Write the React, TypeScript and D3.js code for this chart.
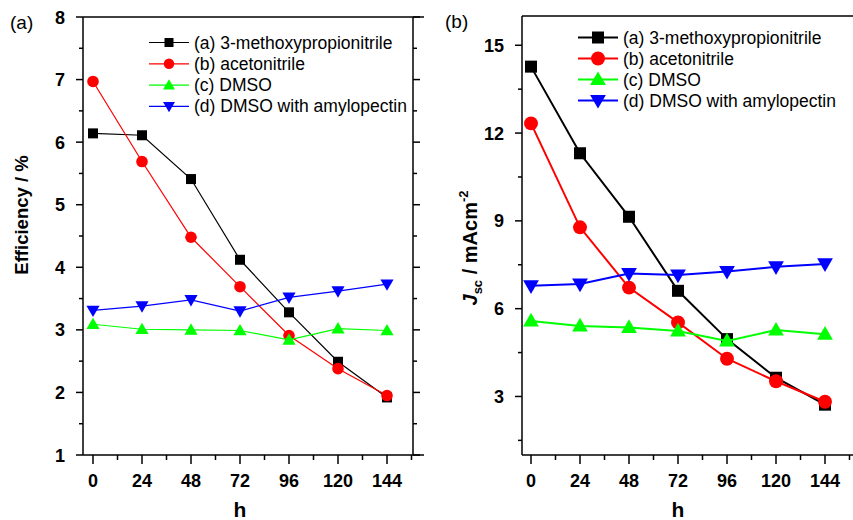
import React from "react";
import * as d3 from "d3";

const hours = [0, 24, 48, 72, 96, 120, 144];
const seriesNames = [
  "(a) 3-methoxypropionitrile",
  "(b) acetonitrile",
  "(c) DMSO",
  "(d) DMSO with amylopectin",
];
const seriesColors = ["#000000", "#ff0000", "#00ff00", "#0000ff"];
const seriesShapes = ["square", "circle", "triangle", "down"];

const effA = [6.14, 6.11, 5.41, 4.12, 3.28, 2.49, 1.92];
const effB = [6.97, 5.69, 4.48, 3.69, 2.91, 2.38, 1.95];
const effC = [3.09, 3.01, 3.0, 2.99, 2.84, 3.02, 2.99];
const effD = [3.31, 3.38, 3.48, 3.3, 3.52, 3.62, 3.73];

const jscA = [14.27, 11.31, 9.14, 6.61, 4.96, 3.64, 2.72];
const jscB = [12.33, 8.78, 6.72, 5.53, 4.29, 3.52, 2.82];
const jscC = [5.58, 5.41, 5.36, 5.24, 4.9, 5.27, 5.13];
const jscD = [6.78, 6.84, 7.2, 7.15, 7.27, 7.43, 7.53];

const xTicks = [0, 24, 48, 72, 96, 120, 144];
const xMinor = [12, 36, 60, 84, 108, 132, 156];
const effTicks = [1, 2, 3, 4, 5, 6, 7, 8];
const effMinor = [1.5, 2.5, 3.5, 4.5, 5.5, 6.5, 7.5];
const jscTicks = [3, 6, 9, 12, 15];
const jscMinor = [1.5, 4.5, 7.5, 10.5, 13.5];

const FONT = "'Liberation Sans', Arial, Helvetica, sans-serif";

function Marker({ shape, x, y, s, color }: any) {
  if (shape === "square")
    return <rect x={x - s / 2} y={y - s / 2} width={s} height={s} fill={color} />;
  if (shape === "circle") return <circle cx={x} cy={y} r={s * 0.58} fill={color} />;
  const sym = d3.symbol().type(d3.symbolTriangle).size(s * s * 0.75)();
  return (
    <path
      d={sym as string}
      transform={`translate(${x},${y + (shape === "down" ? -1 : 1)}) rotate(${shape === "down" ? 180 : 0})`}
      fill={color}
    />
  );
}

function Panel({ data, xRange, yDomain, yRange, frame, majors, minors, lineW, markS, legend, legS }: any) {
  const x = d3.scaleLinear().domain([0, 144]).range(xRange);
  const y = d3.scaleLinear().domain(yDomain).range(yRange);
  const line = d3
    .line<number>()
    .x((_, i) => x(hours[i]))
    .y((d) => y(d));
  const [fl, fr, ft, fb, axEnd] = frame;
  return (
    <g>
      {data.map((vals: number[], si: number) => (
        <g key={si}>
          <path d={line(vals) as string} fill="none" stroke={seriesColors[si]} strokeWidth={lineW} />
          {vals.map((v, i) => (
            <Marker key={i} shape={seriesShapes[si]} x={x(hours[i])} y={y(v)} s={markS} color={seriesColors[si]} />
          ))}
        </g>
      ))}
      {/* frame */}
      <line x1={fl} x2={axEnd} y1={ft} y2={ft} stroke="#000" strokeWidth={1.5} />
      <line x1={fl} x2={axEnd} y1={fb} y2={fb} stroke="#000" strokeWidth={1.5} />
      <line x1={fl} x2={fl} y1={ft} y2={fb} stroke="#000" strokeWidth={1.5} />
      {fr < 853 && <line x1={fr} x2={fr} y1={ft} y2={fb} stroke="#000" strokeWidth={1.5} />}
      {/* y ticks */}
      {majors.map((t: number) => (
        <g key={"m" + t}>
          <line x1={fl - 7} x2={fl} y1={y(t)} y2={y(t)} stroke="#000" strokeWidth={1.5} />
          {fr < 853 && <line x1={fr} x2={fr + 7} y1={y(t)} y2={y(t)} stroke="#000" strokeWidth={1.5} />}
          <text x={fl - 18} y={y(t) + 6.5} textAnchor="end" fontSize={18} fontWeight="bold" fontFamily={FONT}>
            {t}
          </text>
        </g>
      ))}
      {minors.map((t: number) => (
        <g key={"n" + t}>
          <line x1={fl - 4} x2={fl} y1={y(t)} y2={y(t)} stroke="#000" strokeWidth={1.5} />
          {fr < 853 && <line x1={fr} x2={fr + 4} y1={y(t)} y2={y(t)} stroke="#000" strokeWidth={1.5} />}
        </g>
      ))}
      {/* x ticks */}
      {xTicks.map((t) => (
        <g key={"x" + t}>
          <line x1={x(t)} x2={x(t)} y1={fb} y2={fb + 9} stroke="#000" strokeWidth={1.5} />
          <text x={x(t)} y={fb + 32} textAnchor="middle" fontSize={18} fontWeight="bold" fontFamily={FONT}>
            {t}
          </text>
        </g>
      ))}
      {xMinor.map((t) => (
        <line key={"xm" + t} x1={x(t)} x2={x(t)} y1={fb} y2={fb + 5} stroke="#000" strokeWidth={1.5} />
      ))}
      <text x={x(72)} y={fb + 62} textAnchor="middle" fontSize={21} fontWeight="bold" fontFamily={FONT}>
        h
      </text>
      {/* legend */}
      {seriesNames.map((n, i) => {
        const ly = legend.y + i * legend.dy;
        return (
          <g key={n}>
            <line x1={legend.x} x2={legend.x + 40} y1={ly} y2={ly} stroke={seriesColors[i]} strokeWidth={lineW} />
            <Marker shape={seriesShapes[i]} x={legend.x + 20} y={ly} s={legS} color={seriesColors[i]} />
            <text x={legend.x + 45} y={ly + 6} fontSize={17.5} fontFamily={FONT}>
              {n}
            </text>
          </g>
        );
      })}
    </g>
  );
}

export default function App() {
  return (
    <svg width={853} height={520} style={{ position: "absolute", left: 0, top: 0, background: "#fff" }}>
      <rect width={853} height={520} fill="#fff" />
      <text x={10} y={29} fontSize={19} fontFamily={FONT}>
        (a)
      </text>
      <text x={445} y={28} fontSize={19} fontFamily={FONT}>
        (b)
      </text>
      <Panel
        data={[effA, effB, effC, effD]}
        xRange={[93, 387]}
        yDomain={[1, 8]}
        yRange={[455, 17]}
        frame={[83, 413, 17, 455, 424]}
        majors={effTicks}
        minors={effMinor}
        lineW={1.2}
        markS={10}
        legend={{ x: 149, y: 42.5, dy: 21.3 }}
        legS={9}
      />
      <Panel
        data={[jscA, jscB, jscC, jscD]}
        xRange={[531, 825]}
        yDomain={[1, 16]}
        yRange={[455, 16]}
        frame={[522, 860, 16, 455, 860]}
        majors={jscTicks}
        minors={jscMinor}
        lineW={2}
        markS={12}
        legend={{ x: 578, y: 37.5, dy: 21 }}
        legS={12}
      />
      <text transform="translate(28,215) rotate(-90)" textAnchor="middle" fontSize={18.5} fontWeight="bold" fontFamily={FONT}>
        Efficiency / %
      </text>
      <text transform="translate(477,248) rotate(-90)" textAnchor="middle" fontSize={20} fontWeight="bold" fontFamily={FONT}>
        <tspan fontStyle="italic">J</tspan>
        <tspan fontSize={13} dy={5}>sc</tspan>
        <tspan dy={-5}> / mAcm</tspan>
        <tspan fontSize={13} dy={-9}>-2</tspan>
      </text>
    </svg>
  );
}
